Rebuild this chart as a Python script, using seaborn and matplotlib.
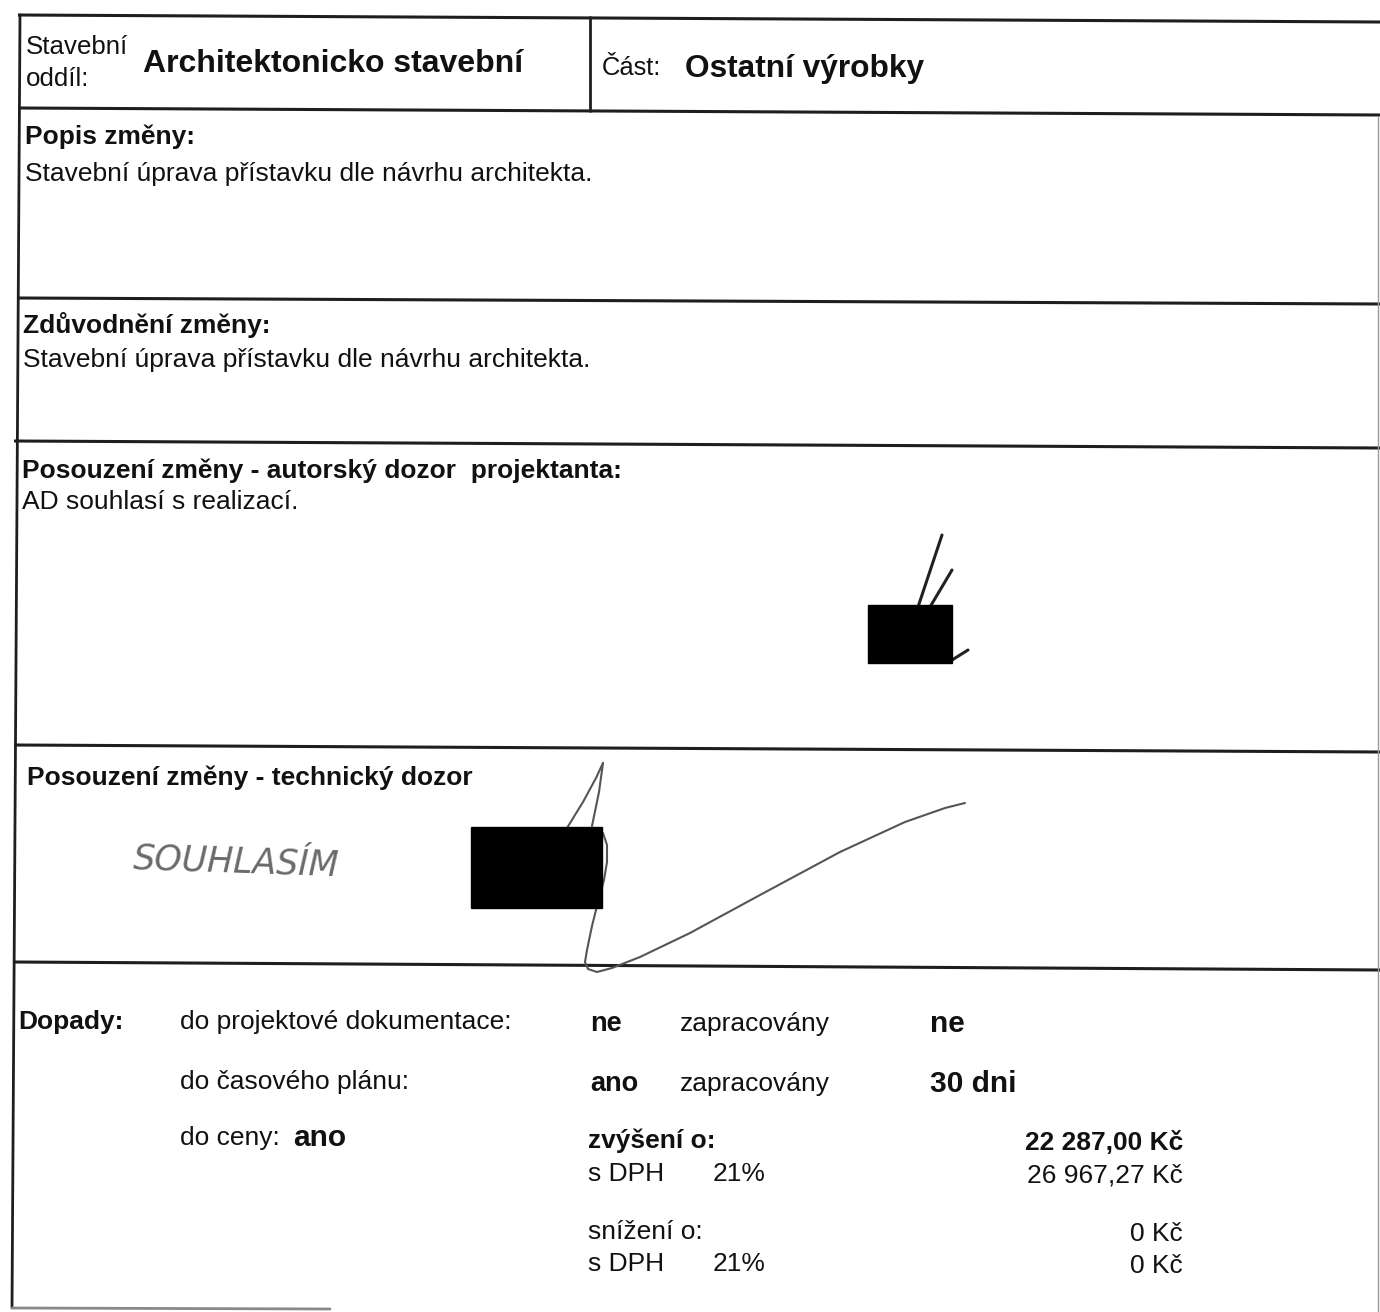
import matplotlib
matplotlib.use("Agg")
import matplotlib.pyplot as plt
import seaborn as sns
import pandas as pd
from matplotlib.patches import Rectangle

sns.set_theme(style="white")
plt.rcParams['font.family'] = ['Liberation Sans', 'DejaVu Sans']

# ---- document texts ----
header_labels = ["Stavební", "oddíl:", "Část:"]
header_values = ["Architektonicko stavební", "Ostatní výrobky"]
section_titles = ["Popis změny:", "Zdůvodnění změny:",
                  "Posouzení změny - autorský dozor  projektanta:",
                  "Posouzení změny - technický dozor"]
section_texts = ["Stavební úprava přístavku dle návrhu architekta.",
                 "Stavební úprava přístavku dle návrhu architekta.",
                 "AD souhlasí s realizací.", "SOUHLASÍM"]
impact_rows = ["do projektové dokumentace:", "do časového plánu:", "do ceny:"]
impact_flags = ["ne", "ano", "ano"]
impact_worked = ["zapracovány", "zapracovány"]
impact_results = ["ne", "30 dni"]
price_labels = ["zvýšení o:", "s DPH", "snížení o:", "s DPH"]
vat_rates = ["", "21%", "", "21%"]
price_values = ["22 287,00 Kč", "26 967,27 Kč", "0 Kč", "0 Kč"]

# signature strokes (pen traces)
sig_ad_x = [[918, 942], [930, 952], [952, 968]]
sig_ad_y = [[607, 535], [607, 570], [660, 650]]
sig_td_x = [[603, 596, 583, 567],
            [603, 599, 592],
            [596, 603, 607, 607, 604, 598, 592, 587, 585, 588, 597, 612, 640, 690, 760, 840, 905, 945, 965]]
sig_td_y = [[763, 778, 802, 828],
            [763, 792, 826],
            [828, 833, 845, 862, 880, 902, 926, 950, 962, 969, 972, 968, 957, 933, 895, 852, 822, 808, 803]]

fig = plt.figure(figsize=(13.8, 13.12), dpi=100)
ax = fig.add_axes([0, 0, 1, 1])
ax.set_xlim(0, 1380)
ax.set_ylim(1312, 0)
ax.axis('off')

LC = '#1e1e1e'
# frame lines (slightly skewed like the scan)
hlines = [(15, 22), (108, 115), (298, 304), (441, 448), (745, 752), (962, 970)]
for yl, yr in hlines:
    ax.plot([18 if yl < 300 else 14, 1380], [yl, yr], color=LC, lw=2.2, solid_capstyle='butt')
ax.plot([20, 12], [15, 1308], color=LC, lw=2)
ax.plot([590, 590], [17, 111], color=LC, lw=2)
ax.plot([1378, 1378], [116, 1312], color='#999999', lw=1)
ax.plot([12, 330], [1308, 1309], color='#888888', lw=2)

R = 'normal'
B = 'bold'
DY = 2
def t(x, y, s, size=19, weight=R, ha='left', color='#111111', **kw):
    ax.text(x, y + DY, s, fontsize=size, fontweight=weight, ha=ha, va='center', color=color, **kw)

# header
t(26, 45, header_labels[0], 18.6)
t(26, 77, header_labels[1], 18.6)
t(143, 62, header_values[0], 23, B)
t(602, 66, header_labels[2], 18.4)
t(685, 67, header_values[1], 22.8, B)

# sections
t(25, 135, section_titles[0], 19, B)
t(25, 172, section_texts[0], 19)
t(23, 323, section_titles[1], 19, B)
t(23, 358, section_texts[1], 19)
t(22, 469, section_titles[2], 19, B)
t(22, 500, section_texts[2], 19)
t(27, 776, section_titles[3], 19, B)
ax.text(133, 862, section_texts[3], fontsize=25, color='#6a6a6a', va='center',
        family='DejaVu Sans', style='italic', rotation=-2)

# redaction boxes
ax.add_patch(Rectangle((868, 605), 84, 58, color='black', zorder=3))
ax.add_patch(Rectangle((471, 827), 131, 81, color='black', zorder=3))

# signatures
for xs, ys in zip(sig_ad_x, sig_ad_y):
    sns.lineplot(x=xs, y=ys, sort=False, ax=ax, color='#222222', lw=2.2, estimator=None)
for xs, ys in zip(sig_td_x, sig_td_y):
    sns.lineplot(x=xs, y=ys, sort=False, ax=ax, color='#555555', lw=1.5, estimator=None)

# impacts
t(18, 1020, "Dopady:", 19, B)
rows_y = [1020, 1080, 1136]
for i, lab in enumerate(impact_rows):
    t(180, rows_y[i], lab, 19)
t(590, 1022, impact_flags[0], 19.5, B)
t(590, 1082, impact_flags[1], 19.5, B)
t(293, 1136, impact_flags[2], 21.5, B)
for i in range(2):
    t(680, rows_y[i] + 2, impact_worked[i], 19)
    t(930, rows_y[i] + 2, impact_results[i], 21.5, B)

price_y = [1139, 1172, 1230, 1262]
value_y = [1141, 1174, 1232, 1264]
for i in range(4):
    t(588, price_y[i], price_labels[i], 19, B if i == 0 else R)
    if vat_rates[i]:
        t(713, price_y[i], vat_rates[i], 19)
    t(1183, value_y[i], price_values[i], 19, B if i == 0 else R, ha='right')

fig.savefig("out.png", dpi=100, facecolor='white')
